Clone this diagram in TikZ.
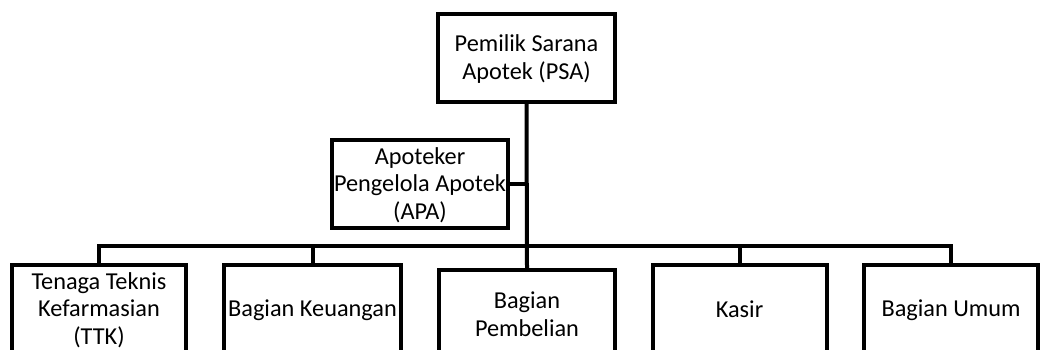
\documentclass[tikz,border=0pt]{standalone}
\usepackage{fontspec}
\setmainfont{Carlito}
\newcommand{\tstrut}{\rule[-2pt]{0pt}{21pt}}
\begin{document}
\begin{tikzpicture}[x=1pt,y=-1pt,
  box/.style={draw=black,line width=4pt,rectangle,minimum width=176pt,minimum height=88pt,
    inner sep=1pt,align=center,font=\fontsize{24.3}{27.5}\selectfont,text=black},
  conn/.style={draw=black,line width=4pt}]
\useasboundingbox (0,0) rectangle (1040,349);
\clip (0,0) rectangle (1040,349);
\node[box,minimum width=177pt] (psa) at (526.5,58) {\tstrut Pemilik Sarana\\Apotek (PSA)\tstrut};
\node[box] (apa) at (420,184) {\tstrut Apoteker\\Pengelola Apotek\\(APA)\tstrut};
\node[box,minimum width=174pt] (ttk) at (99,309) {\tstrut Tenaga Teknis\\Kefarmasian\\(TTK)\tstrut};
\node[box,minimum width=177pt] (keu) at (312.5,309) {\tstrut Bagian Keuangan\tstrut};
\node[box] (pemb) at (527,314) {\tstrut Bagian\\Pembelian\tstrut};
\node[box,minimum width=174pt] (kasir) at (739.5,309) {\tstrut Kasir\tstrut};
\node[box,minimum width=174pt] (umum) at (951,309) {\tstrut Bagian Umum\tstrut};
\coordinate (bar) at (527,246);
\draw[conn] (psa.south) -- (pemb.north);
\draw[conn] (apa.east) -- (apa.east -| psa.south);
\draw[conn] (ttk.north) |- (umum.north |- bar) -- (umum.north);
\draw[conn] (keu.north) -- (keu.north |- bar);
\draw[conn] (kasir.north) -- (kasir.north |- bar);
\end{tikzpicture}
\end{document}
